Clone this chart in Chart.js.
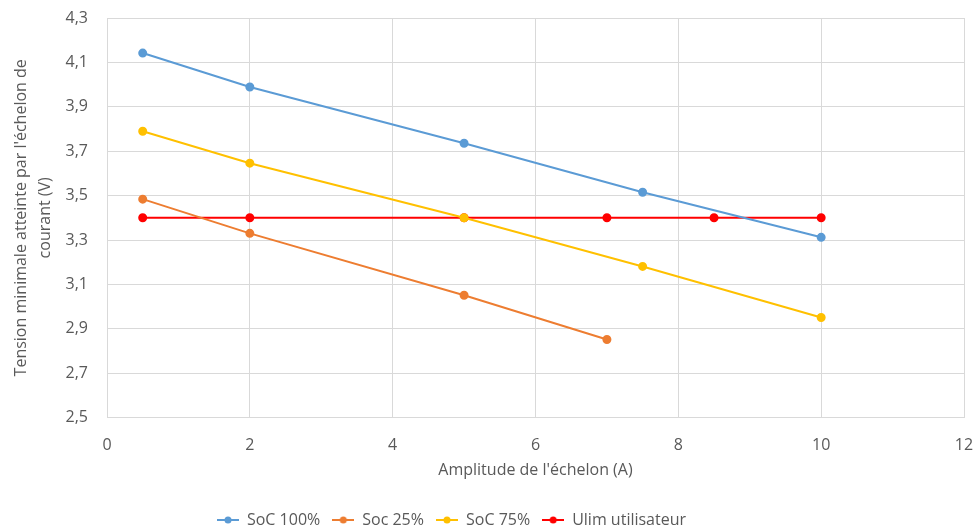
<!DOCTYPE html>
<html>
<head>
<meta charset="utf-8">
<script src="https://cdn.jsdelivr.net/npm/chart.js@4/dist/chart.umd.min.js"></script>
<style>
  html, body { margin: 0; padding: 0; background: #fff; }
  #wrap { width: 978px; height: 532px; }
</style>
</head>
<body>
<div id="wrap"><canvas id="chart" width="978" height="532"></canvas></div>
<script>
const seriesNames = ["SoC 100%", "Soc 25%", "SoC 75%", "Ulim utilisateur"];
const seriesColors = ["#5B9BD5", "#ED7D31", "#FFC000", "#FF0000"];

const soc100X = [0.5, 2, 5, 7.5, 10];
const soc100Y = [4.142, 3.989, 3.736, 3.515, 3.312];
const soc25X = [0.5, 2, 5, 7];
const soc25Y = [3.484, 3.33, 3.051, 2.852];
const soc75X = [0.5, 2, 5, 7.5, 10];
const soc75Y = [3.79, 3.646, 3.40, 3.181, 2.951];
const ulimX = [0.5, 2, 5, 7, 8.5, 10];
const ulimY = [3.4, 3.4, 3.4, 3.4, 3.4, 3.4];

const xTicks = [0, 2, 4, 6, 8, 10, 12];
const yMin = 2.5, yMax = 4.3, yStep = 0.2;

const allX = [soc100X, soc25X, soc75X, ulimX];
const allY = [soc100Y, soc25Y, soc75Y, ulimY];

function pts(xs, ys) {
  return xs.map((x, i) => ({ x: x, y: ys[i] }));
}

// little "line + dot" picture for the legend, like Excel
function legendIcon(color) {
  const c = document.createElement("canvas");
  c.width = 22; c.height = 10;
  const g = c.getContext("2d");
  g.strokeStyle = color;
  g.lineWidth = 2;
  g.beginPath(); g.moveTo(0, 5); g.lineTo(22, 5); g.stroke();
  g.fillStyle = color;
  g.beginPath(); g.arc(11, 5, 3.5, 0, Math.PI * 2); g.fill();
  return c;
}

// Excel puts the legend a bit left of the canvas centre
const legendShift = {
  id: "legendShift",
  afterLayout(chart) {
    const lg = chart.legend;
    if (lg) { lg.left -= 33; lg.right -= 33; }
  }
};

const textColor = "#595959";
const fontFam = "'Open Sans', 'Noto Sans', sans-serif";

new Chart(document.getElementById("chart"), {
  type: "scatter",
  data: {
    datasets: seriesNames.map((name, i) => ({
      label: name,
      data: pts(allX[i], allY[i]),
      showLine: true,
      borderColor: seriesColors[i],
      backgroundColor: seriesColors[i],
      borderWidth: 2,
      pointRadius: 3.5,
      pointHoverRadius: 3.5,
      tension: 0
    }))
  },
  plugins: [legendShift],
  options: {
    responsive: false,
    animation: false,
    layout: { padding: { top: 18, right: 14, left: 5, bottom: -6 } },
    plugins: {
      tooltip: { enabled: false },
      legend: {
        position: "bottom",
        labels: {
          usePointStyle: true,
          pointStyleWidth: 22,
          color: textColor,
          font: { family: fontFam, size: 16 },
          padding: 12,
          generateLabels: function (chart) {
            const items = Chart.defaults.plugins.legend.labels.generateLabels(chart);
            items.forEach((it, i) => { it.pointStyle = legendIcon(seriesColors[i]); });
            return items;
          }
        }
      }
    },
    scales: {
      x: {
        type: "linear",
        min: xTicks[0],
        max: xTicks[xTicks.length - 1],
        afterBuildTicks: s => { s.ticks = xTicks.map(v => ({ value: v })); },
        afterFit: s => { s.paddingLeft = 0; s.paddingRight = 0; },
        ticks: { color: textColor, font: { family: fontFam, size: 16 }, padding: 18 },
        grid: { color: "#D9D9D9", drawTicks: false },
        border: { color: "#D9D9D9" },
        title: {
          display: true,
          text: "Amplitude de l'échelon (A)",
          color: textColor,
          font: { family: fontFam, size: 16 },
          padding: { top: -12, bottom: 20 }
        }
      },
      y: {
        min: yMin,
        max: yMax,
        afterFit: s => { s.width = 102; s.paddingTop = 0; s.paddingBottom = 0; },
        ticks: {
          stepSize: yStep,
          color: textColor,
          font: { family: fontFam, size: 16 },
          padding: 19,
          callback: v => v.toFixed(1).replace(".", ",")
        },
        grid: { color: "#D9D9D9", drawTicks: false },
        border: { display: false },
        title: {
          display: true,
          text: ["Tension minimale atteinte par l'échelon de", "courant (V)"],
          color: textColor,
          font: { family: fontFam, size: 16, lineHeight: 1.5 },
          padding: { bottom: 4 }
        }
      }
    }
  }
});
</script>
</body>
</html>
